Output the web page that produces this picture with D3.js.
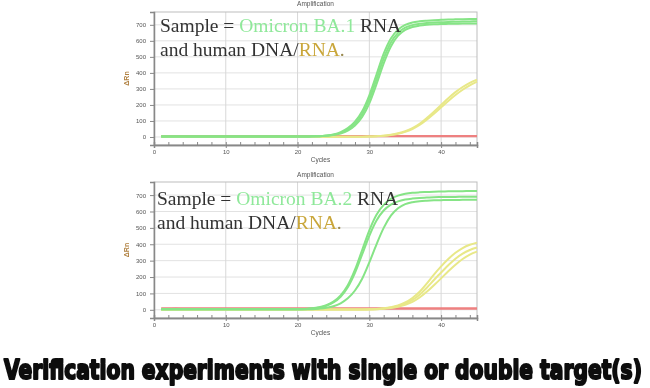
<!DOCTYPE html>
<html><head><meta charset="utf-8">
<script src="https://cdn.jsdelivr.net/npm/d3@7"></script>
<style>html,body{margin:0;padding:0;background:#fff;}svg{display:block;}</style>
</head><body>
<svg id="c" width="650" height="388"></svg>
<script>
const cycles = d3.range(1, 46);
const xTicks = [0, 10, 20, 30, 40];
const yTicks = [0, 100, 200, 300, 400, 500, 600, 700];
const titleText = "Amplification";
const xLabel = "Cycles";
const yLabel = "ΔRn";
const caption = "Verification experiments with single or double target(s)";

// Chart 1 (BA.1)
const c1Green = [
  [3,3,3,3,3,3,3,3,3,3,3,3,3,3,3,3,3,3,3,3,3,4,5,9,16,30,55,95,160,260,390,520,615,670,700,715,722,726,729,731,733,734,735,736,737],
  [3,3,3,3,3,3,3,3,3,3,3,3,3,3,3,3,3,3,3,3,3,4,5,8,14,26,47,82,142,236,360,490,590,650,682,698,706,711,714,716,718,719,720,721,722],
  [3,3,3,3,3,3,3,3,3,3,3,3,3,3,3,3,3,3,3,3,3,3,4,7,12,22,40,72,125,210,330,460,565,632,668,686,695,700,703,705,706,707,708,708,709]
];
const c1Yellow = [
  [2,2,2,2,2,2,2,2,2,2,2,2,2,2,2,2,2,2,2,2,2,2,2,2,2,2,2,2,2,3,4,7,12,20,32,50,75,108,145,185,225,262,295,322,345],
  [2,2,2,2,2,2,2,2,2,2,2,2,2,2,2,2,2,2,2,2,2,2,2,2,2,2,2,2,2,3,5,8,14,23,36,55,82,118,158,200,242,280,312,338,358]
];
const c1Red = [
  [8,8,8,8,8,8,8,8,8,8,8,8,8,8,8,8,8,8,8,8,8,8,8,8,8,8,8,8,8,8,8,8,8,8,8,8,8,8,8,8,8,8,8,8,8],
  [4,5,6,5,4,4,4,4,4,4,4,4,4,4,4,4,4,4,4,4,4,4,4,4,4,4,4,4,4,4,4,4,4,4,4,4,4,4,4,4,4,4,4,4,4]
];
// Chart 2 (BA.2)
const c2Green = [
  [3,3,3,3,3,3,3,3,3,3,3,3,3,3,3,3,3,3,3,3,5,9,16,28,50,88,150,245,365,485,580,640,677,697,708,714,717,719,721,722,723,724,724,725,725],
  [3,3,3,3,3,3,3,3,3,3,3,3,3,3,3,3,3,3,3,3,4,8,14,25,45,80,138,226,338,452,545,606,642,662,673,679,683,685,687,688,689,689,690,690,690],
  [3,3,3,3,3,3,3,3,3,3,3,3,3,3,3,3,3,3,3,3,3,4,7,12,22,40,70,118,190,290,400,500,575,620,645,657,663,666,668,669,670,670,671,671,671]
];
const c2Yellow = [
  [2,2,2,2,2,2,2,2,2,2,2,2,2,2,2,2,2,2,2,2,2,2,2,2,2,2,2,2,2,3,5,9,16,27,45,72,110,160,215,265,310,348,377,397,410],
  [2,2,2,2,2,2,2,2,2,2,2,2,2,2,2,2,2,2,2,2,2,2,2,2,2,2,2,2,2,3,4,8,14,23,38,60,92,135,182,228,272,312,343,365,380],
  [2,2,2,2,2,2,2,2,2,2,2,2,2,2,2,2,2,2,2,2,2,2,2,2,2,2,2,2,2,2,4,7,11,19,30,48,75,110,150,192,235,275,310,337,355]
];
const c2Red = [
  [10,10,11,10,10,10,10,10,10,10,10,10,10,10,10,10,10,10,10,10,10,10,10,10,10,10,10,10,10,10,10,10,10,10,10,10,10,10,10,10,10,10,10,10,10],
  [5,6,7,6,5,5,5,5,5,5,5,5,5,5,5,5,5,5,5,5,5,5,5,5,5,5,5,5,5,5,5,5,5,5,5,5,5,5,5,5,5,5,5,5,5]
];

const charts = [
  {green: c1Green, yellow: c1Yellow, red: c1Red, variant: "Omicron BA.1",
   left: 154, right: 477, top: 12, bottom: 145, titleY: 6, textX: 160, textY: 32},
  {green: c2Green, yellow: c2Yellow, red: c2Red, variant: "Omicron BA.2",
   left: 154, right: 477, top: 182, bottom: 318, titleY: 177, textX: 157, textY: 205}
];

const svg = d3.select("#c");
const defs = svg.append("defs");
defs.append("filter").attr("id","soft").attr("x","-5%").attr("y","-5%").attr("width","110%").attr("height","110%")
  .append("feGaussianBlur").attr("stdDeviation", 0.6);

charts.forEach(ch => {
  const g = svg.append("g").attr("filter", "url(#soft)");
  const x = d3.scaleLinear().domain([0, 45]).range([ch.left, ch.right]);
  const y = d3.scaleLinear().domain([-50, 780]).range([ch.bottom, ch.top]);

  // grid
  g.append("g").selectAll("line.h").data(yTicks).join("line")
    .attr("x1", ch.left).attr("x2", ch.right).attr("y1", d => y(d)).attr("y2", d => y(d))
    .attr("stroke", "#e2e2e2").attr("stroke-width", 1);
  g.append("g").selectAll("line.v").data(xTicks.slice(1)).join("line")
    .attr("x1", d => x(d)).attr("x2", d => x(d)).attr("y1", ch.top).attr("y2", ch.bottom)
    .attr("stroke", "#d8d8d8").attr("stroke-width", 1);

  // frame
  g.append("rect").attr("x", ch.left).attr("y", ch.top).attr("width", ch.right - ch.left).attr("height", ch.bottom - ch.top)
    .attr("fill", "none").attr("stroke", "#bdbdbd").attr("stroke-width", 1);

  // axes
  const xa = g.append("g").attr("transform", `translate(0,${ch.bottom})`)
    .call(d3.axisBottom(x).tickValues(xTicks).tickSize(3).tickPadding(2));
  const xm = g.append("g").attr("transform", `translate(0,${ch.bottom})`)
    .call(d3.axisBottom(x).tickValues(d3.range(0, 46, 2)).tickSize(-3).tickFormat(""));
  const ya = g.append("g").attr("transform", `translate(${ch.left},0)`)
    .call(d3.axisLeft(y).tickValues(yTicks).tickSize(4).tickPadding(4));
  [xa, xm, ya].forEach(a => {
    a.select(".domain").attr("stroke", "#888").attr("stroke-width", 1.5);
    a.selectAll(".tick line").attr("stroke", "#888");
    a.selectAll("text").attr("font-family", "Liberation Sans, Arial, sans-serif").attr("font-size", 6).attr("fill", "#555");
  });

  // titles
  g.append("text").attr("x", (ch.left + ch.right) / 2).attr("y", ch.titleY).attr("text-anchor", "middle")
    .attr("font-family", "Liberation Sans, Arial, sans-serif").attr("font-size", 6.5).attr("fill", "#555").text(titleText);
  g.append("text").attr("x", (ch.left + ch.right) / 2 + 5).attr("y", ch.bottom + 17).attr("text-anchor", "middle")
    .attr("font-family", "Liberation Sans, Arial, sans-serif").attr("font-size", 6.5).attr("fill", "#555").text(xLabel);
  g.append("text").attr("transform", `translate(${ch.left - 25},${(ch.top + ch.bottom) / 2}) rotate(-90)`)
    .attr("text-anchor", "middle").attr("font-family", "Liberation Sans, Arial, sans-serif").attr("font-size", 7)
    .attr("font-weight", "bold").attr("fill", "#b08040").text(yLabel);

  const line = d3.line().x((d, i) => x(cycles[i])).y(d => y(d)).curve(d3.curveMonotoneX);
  const lg = g.append("g");
  lg.selectAll("path.r").data(ch.red).join("path").attr("d", line)
    .attr("fill", "none").attr("stroke", "#ee8080").attr("stroke-width", 1.6);
  lg.selectAll("path.y").data(ch.yellow).join("path").attr("d", line)
    .attr("fill", "none").attr("stroke", "#e8e888").attr("stroke-width", 2);
  lg.selectAll("path.g").data(ch.green).join("path").attr("d", line)
    .attr("fill", "none").attr("stroke", "#86e486").attr("stroke-width", 2);

  // annotation
  const font = "Liberation Serif, Times New Roman, serif";
  const t1 = g.append("text").attr("x", ch.textX).attr("y", ch.textY)
    .attr("font-family", font).attr("font-size", 19.5).attr("fill", "#333");
  t1.append("tspan").text("Sample = ");
  t1.append("tspan").attr("fill", "#8fe89a").text(ch.variant);
  t1.append("tspan").text(" RNA");
  const t2 = g.append("text").attr("x", ch.textX).attr("y", ch.textY + 24)
    .attr("font-family", font).attr("font-size", 19.5).attr("fill", "#333");
  t2.append("tspan").text("and human DNA/");
  t2.append("tspan").attr("fill", "#c9a63a").text("RNA");
  t2.append("tspan").attr("fill", "#9a8a50").text(".");
});

// caption: natural text, then condensed horizontally with a transform to fit the width
const cap = svg.append("text").attr("x", 0).attr("y", 0)
  .attr("font-family", "DejaVu Sans, sans-serif").attr("font-weight", "bold").attr("font-size", 27)
  .attr("fill", "#111").attr("stroke", "#111").attr("stroke-width", 2.2).attr("stroke-linejoin", "round")
  .attr("filter", "url(#soft)")
  .text(caption);
const natural = cap.node().getComputedTextLength();
const sx = 638 / natural;
cap.attr("transform", `translate(4,379) scale(${sx},1)`);
</script>
</body></html>
